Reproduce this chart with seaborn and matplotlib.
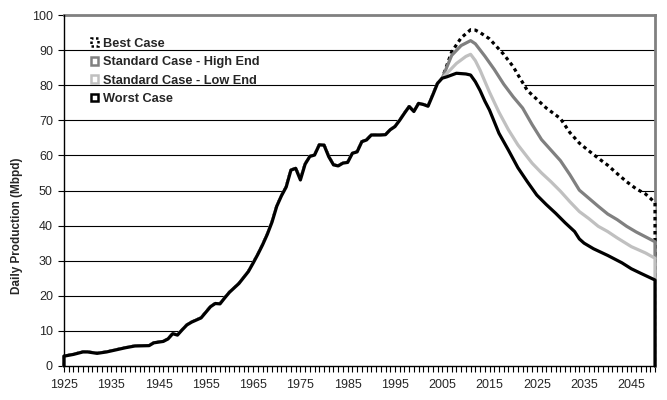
import numpy as np
import pandas as pd
import matplotlib
matplotlib.use("Agg")
import matplotlib.pyplot as plt
from matplotlib.patches import Patch
import seaborn as sns

# ---------------- data ----------------
hist_years = [1925, 1927, 1929, 1930, 1932, 1934, 1936, 1938, 1940, 1943, 1944, 1946,
              1947, 1948, 1949, 1950, 1951, 1952, 1954, 1955, 1956, 1957, 1958, 1959,
              1960, 1962, 1964, 1965, 1966, 1967, 1968, 1969, 1970, 1971, 1972, 1973,
              1974, 1975, 1976, 1977, 1978, 1979, 1980, 1981, 1982, 1983, 1984, 1985,
              1986, 1987, 1988, 1989, 1990, 1991, 1992, 1993, 1994, 1995, 1996, 1997,
              1998, 1999, 2000, 2001, 2002, 2003, 2004, 2005]
hist_prod = [2.8, 3.3, 4.0, 4.0, 3.6, 4.0, 4.6, 5.2, 5.7, 5.8, 6.6, 7.0,
             7.7, 9.2, 8.8, 10.3, 11.7, 12.5, 13.7, 15.3, 16.9, 17.8, 17.7, 19.4,
             21.0, 23.5, 26.9, 29.3, 31.8, 34.5, 37.5, 41.0, 45.5, 48.5, 51.0, 55.8,
             56.3, 53.0, 57.5, 59.7, 60.1, 63.0, 62.9, 59.6, 57.3, 57.0, 57.8, 58.0,
             60.6, 61.0, 63.9, 64.4, 65.8, 65.8, 65.8, 65.9, 67.3, 68.2, 70.0, 72.0,
             73.9, 72.5, 74.8, 74.5, 74.0, 77.2, 80.5, 82.0]

best_years = [2005, 2007, 2009, 2011, 2012, 2013, 2015, 2018, 2020, 2021, 2023, 2025,
              2027, 2030, 2032, 2034, 2036, 2038, 2040, 2042, 2044, 2046, 2048, 2049, 2050]
best_prod = [82.0, 89.5, 93.5, 95.8, 95.7, 95.0, 93.2, 88.8, 85.3, 83.0, 78.5, 76.0,
             73.5, 70.5, 66.5, 63.5, 61.3, 59.2, 57.2, 54.8, 52.5, 50.5, 49.0, 47.8, 46.5]

high_years = [2005, 2007, 2009, 2011, 2012, 2014, 2016, 2018, 2020, 2022, 2024, 2026,
              2028, 2030, 2032, 2034, 2036, 2038, 2040, 2042, 2044, 2046, 2048, 2050]
high_prod = [82.0, 88.5, 91.3, 92.7, 91.8, 88.3, 84.5, 80.3, 76.7, 73.5, 68.8, 64.5,
             61.5, 58.5, 54.5, 50.1, 47.8, 45.5, 43.3, 41.7, 39.8, 38.2, 36.8, 35.4]

low_years = [2005, 2008, 2010, 2011, 2012, 2013, 2015, 2017, 2019, 2021, 2024, 2026,
             2028, 2030, 2032, 2034, 2036, 2038, 2040, 2042, 2045, 2048, 2050]
low_prod = [82.0, 86.2, 88.2, 88.8, 87.0, 84.3, 78.0, 72.3, 67.3, 63.0, 57.8, 55.0,
            52.5, 49.8, 46.8, 44.0, 42.0, 39.8, 38.3, 36.5, 34.0, 32.2, 30.7]

worst_years = [2005, 2006, 2008, 2010, 2011, 2012, 2013, 2014, 2015, 2017, 2019, 2021,
               2023, 2025, 2027, 2029, 2031, 2033, 2034, 2035, 2037, 2040, 2043, 2045,
               2047, 2050]
worst_prod = [82.0, 82.4, 83.4, 83.2, 82.9, 81.0, 78.5, 75.5, 72.9, 66.3, 61.5, 56.5,
              52.5, 48.7, 46.0, 43.5, 40.8, 38.3, 36.2, 35.0, 33.4, 31.5, 29.4, 27.7,
              26.4, 24.5]

labels = ["Best Case", "Standard Case - High End", "Standard Case - Low End", "Worst Case"]
xtick_years = list(range(1925, 2051, 10))
yticks = list(range(0, 101, 10))

# ---------------- style ----------------
sns.set_theme(style="white")
plt.rcParams["font.family"] = ["Liberation Sans", "DejaVu Sans"]

fig = plt.figure(figsize=(6.67, 4.0), dpi=100)
ax = fig.add_axes([64 / 667, 34 / 400, 591 / 667, 351 / 400])

series = [
    (best_years, best_prod, "black", (0, (1.1, 1.1))),
    (high_years, high_prod, "#808080", "-"),
    (low_years, low_prod, "#c0c0c0", "-"),
    (worst_years, worst_prod, "black", "-"),
]

for i, (py, pv, color, ls) in enumerate(series):
    x = np.array(hist_years + py[1:], dtype=float)
    v = np.array(hist_prod + pv[1:], dtype=float)
    ax.fill_between(x, v, 0, color="white", lw=0, zorder=3 + 2 * i)
    ox = np.concatenate([[x[0]], x, [x[-1]]])
    oy = np.concatenate([[0.0], v, [0.0]])
    df = pd.DataFrame({"year": ox, "prod": oy})
    sns.lineplot(data=df, x="year", y="prod", sort=False, estimator=None,
                 color=color, lw=2.3, linestyle=ls, ax=ax, zorder=4 + 2 * i,
                 clip_on=False)

ax.set_xlim(1925, 2050)
ax.set_ylim(0, 100)

ax.set_yticks(yticks)
ax.set_yticklabels([str(t) for t in yticks])
all_years = list(range(1925, 2051))
ax.set_xticks(all_years)
ax.set_xticklabels([str(y) if y in xtick_years else "" for y in all_years])

ax.yaxis.grid(True, color="black", lw=0.8)
ax.xaxis.grid(False)
ax.set_axisbelow(True)

ax.tick_params(axis="x", direction="out", length=4, width=0.8, color="black",
               labelsize=9, pad=5, bottom=True)
ax.tick_params(axis="y", direction="out", length=4, width=0.8, color="black",
               labelsize=9, pad=4, left=True)

for s in ["top", "right"]:
    ax.spines[s].set_color("#808080")
    ax.spines[s].set_linewidth(2)
for s in ["left", "bottom"]:
    ax.spines[s].set_color("black")
    ax.spines[s].set_linewidth(1)
    ax.spines[s].set_zorder(20)

ax.set_xlabel("")
ax.set_ylabel("Daily Production (Mbpd)", fontsize=8.5, fontweight="bold")
ax.yaxis.set_label_coords(-0.069, 0.40)

handles = [
    Patch(facecolor="white", edgecolor="black", linestyle=(0, (1, 1)), lw=1.8),
    Patch(facecolor="white", edgecolor="#808080", lw=1.8),
    Patch(facecolor="white", edgecolor="#c0c0c0", lw=1.8),
    Patch(facecolor="white", edgecolor="black", lw=1.8),
]
leg = ax.legend(handles, labels, loc="upper left", bbox_to_anchor=(0.045, 0.935),
                frameon=False, prop={"weight": "bold", "size": 9.2},
                handlelength=0.55, handleheight=0.55, handletextpad=0.45,
                labelspacing=0.5, borderpad=0, borderaxespad=0)
leg.set_zorder(30)

fig.savefig("out.png", dpi=100)
